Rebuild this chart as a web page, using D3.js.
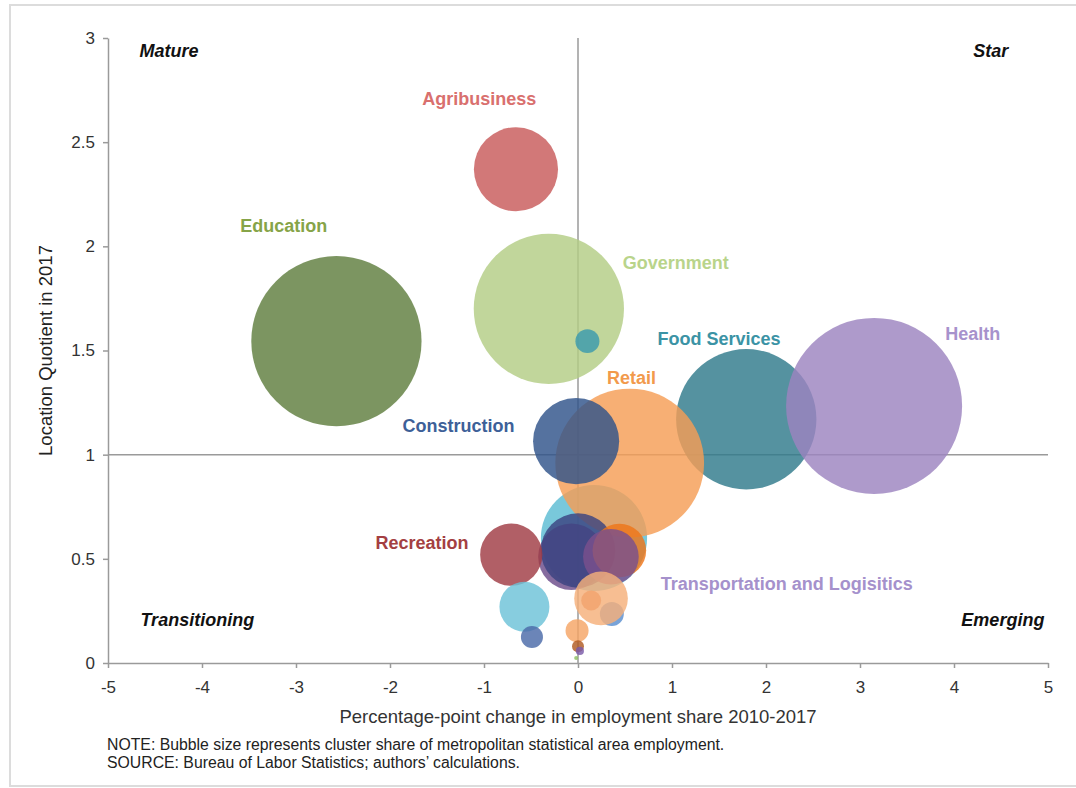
<!DOCTYPE html>
<html>
<head>
<meta charset="utf-8">
<script src="https://cdn.jsdelivr.net/npm/d3@7"></script>
<style>
  body { margin: 0; background: #fff; }
  text { font-family: "Liberation Sans", Arial, sans-serif; }
</style>
</head>
<body>
<div id="chart"></div>
<script>
// Bubbles, listed in drawing order
const names = ["Education", "Government", "Agribusiness", "Food Services", "Health", "Other A",
  "Retail", "Construction", "Other B", "Other C", "Other D", "Recreation", "Other E",
  "Transportation and Logisitics", "Other F", "Other G", "Other H", "Other I", "Other J",
  "Other K", "Other L", "Other M", "Other N"];
const xChange = [-2.57, -0.31, -0.66, 1.79, 3.15, 0.17, 0.55, -0.02, 0.10, -0.07, 0.0, -0.71, 0.44,
  0.35, 0.36, 0.245, 0.14, -0.57, -0.01, -0.49, 0.0, 0.02, -0.02];
const yLQ = [1.545, 1.70, 2.37, 1.17, 1.234, 0.60, 0.96, 1.065, 1.545, 0.51, 0.54, 0.52, 0.54,
  0.51, 0.235, 0.31, 0.30, 0.27, 0.155, 0.125, 0.08, 0.058, 0.024];
const share = [13.1, 10.2, 3.2, 8.9, 14.0, 5.1, 10.0, 3.35, 0.26, 2.0, 2.5, 1.75, 1.3,
  1.4, 0.26, 1.3, 0.18, 1.13, 0.24, 0.22, 0.065, 0.03, 0.007];
const colors = ["#5f7e3e", "#b3cd85", "#c85a5a", "#2f7a8b", "#9c84c0", "#5bbcd3",
  "#f59d55", "#30538a", "#3a9aad", "#6b4c8a", "#3a4380", "#a03c44", "#ee7519",
  "#7a4f8c", "#5a8fd0", "#f5b07a", "#f2a46e", "#6cc2d8", "#f5a565", "#4a6aa8",
  "#b05a22", "#7a5aa8", "#8cc060"];

const labels = ["Agribusiness", "Education", "Government", "Food Services", "Health",
  "Retail", "Construction", "Recreation", "Transportation and Logisitics"];
const labelX = [-1.05, -3.13, 1.04, 1.50, 4.20, 0.57, -1.27, -1.66, 2.22];
const labelY = [2.70, 2.09, 1.915, 1.55, 1.575, 1.36, 1.13, 0.57, 0.375];
const labelColors = ["#d9706e", "#86a448", "#b9d48b", "#3b93a5", "#a792cc", "#f29a4c",
  "#3d6098", "#a43f42", "#a591cc"];

const quadrants = ["Mature", "Star", "Transitioning", "Emerging"];
const quadX = [-4.35, 4.39, -4.05, 4.52];
const quadY = [2.93, 2.93, 0.2, 0.2];

const xTicks = [-5, -4, -3, -2, -1, 0, 1, 2, 3, 4, 5];
const yTicks = [0, 0.5, 1, 1.5, 2, 2.5, 3];

const W = 1076, H = 788;
const margin = {top: 38, right: 28, bottom: 125, left: 108};
const width = W - margin.left - margin.right,
  height = H - margin.top - margin.bottom;

const root = d3.select('#chart').append('svg')
  .attr('width', W)
  .attr('height', H);

// light frame
root.append('rect')
  .attr('x', 10).attr('y', 5)
  .attr('width', 1100).attr('height', 781)
  .attr('fill', 'none')
  .attr('stroke', '#dcdcdc')
  .attr('stroke-width', 2);

const svg = root.append('g')
  .attr('transform', `translate(${margin.left}, ${margin.top})`);

const xScale = d3.scaleLinear().domain([-5, 5]).range([0, width]);
const yScale = d3.scaleLinear().domain([0, 3]).range([height, 0]);
const rScale = d3.scaleSqrt().domain([0, 14]).range([0, 88]);

// axes (plain hyphen for negatives, like the original)
const xAxis = d3.axisBottom(xScale).tickValues(xTicks).tickSize(5).tickSizeOuter(0).tickPadding(13)
  .tickFormat(d => String(d));
const yAxis = d3.axisLeft(yScale).tickValues(yTicks).tickSize(5).tickSizeOuter(0).tickPadding(8)
  .tickFormat(d => String(d));

const xAxisGroup = svg.append('g')
  .attr('transform', `translate(0, ${height})`)
  .call(xAxis);
const yAxisGroup = svg.append('g').call(yAxis);

[xAxisGroup, yAxisGroup].forEach(g => {
  g.select('.domain').attr('stroke', '#9a9a9a').attr('stroke-width', 1.5);
  g.selectAll('.tick line').attr('stroke', '#9a9a9a').attr('stroke-width', 1.5);
  g.selectAll('.tick text').attr('fill', '#333').style('font-size', '17px');
});

// cross lines
svg.append('line')
  .attr('x1', xScale(0)).attr('x2', xScale(0))
  .attr('y1', 0).attr('y2', height)
  .attr('stroke', '#9a9a9a').attr('stroke-width', 1.5);
svg.append('line')
  .attr('x1', 0).attr('x2', width)
  .attr('y1', yScale(1)).attr('y2', yScale(1))
  .attr('stroke', '#9a9a9a').attr('stroke-width', 1.5);

// bubbles
const data = names.map((n, i) => ({name: n, x: xChange[i], y: yLQ[i], s: share[i], c: colors[i]}));
svg.selectAll('circle')
  .data(data)
  .enter()
  .append('circle')
  .attr('cx', d => xScale(d.x))
  .attr('cy', d => yScale(d.y))
  .attr('r', d => rScale(d.s))
  .attr('fill', d => d.c)
  .attr('fill-opacity', 0.82);

// bubble labels
svg.selectAll('.blabel')
  .data(labels)
  .enter()
  .append('text')
  .attr('class', 'blabel')
  .attr('x', (d, i) => xScale(labelX[i]))
  .attr('y', (d, i) => yScale(labelY[i]))
  .attr('text-anchor', 'middle')
  .attr('dominant-baseline', 'middle')
  .attr('fill', (d, i) => labelColors[i])
  .style('font-size', '18px')
  .style('font-weight', 'bold')
  .text(d => d);

// quadrant labels
svg.selectAll('.qlabel')
  .data(quadrants)
  .enter()
  .append('text')
  .attr('class', 'qlabel')
  .attr('x', (d, i) => xScale(quadX[i]))
  .attr('y', (d, i) => yScale(quadY[i]))
  .attr('text-anchor', 'middle')
  .attr('dominant-baseline', 'middle')
  .attr('fill', '#111')
  .style('font-size', '18px')
  .style('font-weight', 'bold')
  .style('font-style', 'italic')
  .text(d => d);

// axis titles
svg.append('text')
  .attr('x', xScale(0))
  .attr('y', height + 60)
  .attr('text-anchor', 'middle')
  .attr('fill', '#333')
  .style('font-size', '18.5px')
  .text('Percentage-point change in employment share 2010-2017');

root.append('text')
  .attr('transform', `translate(52, ${margin.top + yScale(1.5)}) rotate(-90)`)
  .attr('text-anchor', 'middle')
  .attr('fill', '#222')
  .style('font-size', '18.5px')
  .text('Location Quotient in 2017');

// notes
root.append('text')
  .attr('x', 107).attr('y', 750)
  .attr('fill', '#222')
  .style('font-size', '15.8px')
  .text('NOTE: Bubble size represents cluster share of metropolitan statistical area employment.');
root.append('text')
  .attr('x', 107).attr('y', 768)
  .attr('fill', '#222')
  .style('font-size', '15.8px')
  .text('SOURCE: Bureau of Labor Statistics; authors\u2019 calculations.');
</script>
</body>
</html>
